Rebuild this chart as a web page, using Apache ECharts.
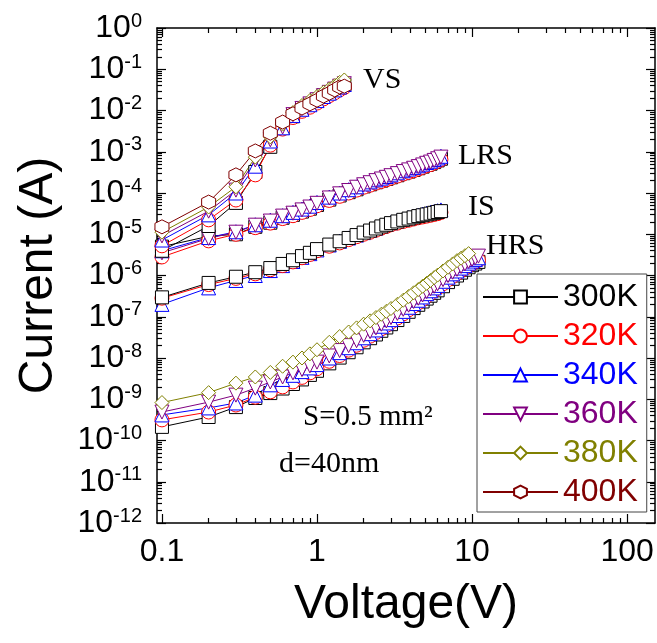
<!DOCTYPE html>
<html style="height: 100%">
<head>
	<meta charset="utf-8">
</head>
<body style="height: 100%; margin: 0; background: #fff">
<div id="container" style="width: 657px; height: 643px"></div>
<script type="text/javascript" src="https://cdn.jsdelivr.net/npm/echarts@6/dist/echarts.min.js"></script>
<script type="text/javascript">
    var dom = document.getElementById("container");
    var myChart = echarts.init(dom);

    // temperatures and their styles
    var temps = ['300K', '320K', '340K', '360K', '380K', '400K'];
    var colors = ['#000000', '#ff0000', '#0000ff', '#800080', '#808000', '#800000'];
    var symbols = ['rect', 'circle', 'triangle', 'triangle',
        'diamond', 'path://M0,-1 L0.87,-0.5 L0.87,0.5 L0,1 L-0.87,0.5 L-0.87,-0.5 Z'];
    var rotates = [0, 0, 0, 180, 0, 0];

    // axis ticks
    var xMajor = [0.1, 1, 10, 100];
    var xLabels = ['0.1', '1', '10', '100'];
    var xMinor = [0.2, 0.3, 0.4, 0.5, 0.6, 0.7, 0.8, 0.9, 2, 3, 4, 5, 6, 7, 8, 9,
        20, 30, 40, 50, 60, 70, 80, 90];
    var yExponents = [-12, -11, -10, -9, -8, -7, -6, -5, -4, -3, -2, -1, 0];
    var yMinorMult = [2, 3, 4, 5, 6, 7, 8, 9];

    // voltages (V)
    var vVS = [0.1, 0.2, 0.3, 0.4, 0.5, 0.6, 0.7, 0.8, 0.9, 1.0, 1.1, 1.2, 1.3, 1.4, 1.5];
    var vSweep = [0.1, 0.2, 0.3, 0.4, 0.5, 0.6, 0.7, 0.8, 0.9, 1.0,
        1.2, 1.4, 1.6, 1.8, 2.0, 2.2, 2.4, 2.6, 2.8, 3.0,
        3.3, 3.6, 3.9, 4.2, 4.5, 4.8, 5.1, 5.4, 5.7, 6.0, 6.3];
    var vHRS = [0.1, 0.2, 0.3, 0.4, 0.5, 0.6, 0.7, 0.8, 0.9, 1.0,
        1.2, 1.4, 1.6, 1.8, 2.0, 2.2, 2.4, 2.6, 2.8, 3.0,
        3.3, 3.6, 3.9, 4.2, 4.5, 4.8, 5.1, 5.4, 5.7, 6.0,
        6.5, 7.0, 7.5, 8.0, 8.5, 9.0, 9.5, 10.0, 10.5, 11.0];

    // currents, as log10 of amps
    var vs300 = [-5.40, -4.80, -4.24, -3.49, -2.88, -2.42, -2.14, -1.97, -1.85, -1.74, -1.64, -1.56, -1.49, -1.42, -1.37];
    var vs320 = [-5.28, -4.65, -4.17, -3.56, -2.84, -2.45, -2.17, -2.02, -1.92, -1.82, -1.72, -1.64, -1.57, -1.50, -1.44];
    var vs340 = [-5.14, -4.53, -4.00, -3.35, -2.74, -2.42, -2.12, -1.97, -1.86, -1.76, -1.66, -1.58, -1.50, -1.43, -1.37];
    var vs360 = [-5.04, -4.44, -3.93, -3.20, -2.71, -2.40, -2.10, -1.95, -1.84, -1.74, -1.64, -1.56, -1.48, -1.41, -1.35];
    var vs380 = [-4.95, -4.34, -3.85, -3.13, -2.64, -2.33, -2.05, -1.88, -1.76, -1.66, -1.56, -1.48, -1.40, -1.32, -1.26];
    var vs400 = [-4.82, -4.22, -3.56, -2.98, -2.55, -2.28, -2.08, -1.94, -1.84, -1.75, -1.65, -1.58, -1.50, -1.43, -1.41];

    var lrs300 = [-5.30, -5.05, -5.00, -4.82, -4.72, -4.60, -4.53, -4.45, -4.38, -4.29,
        -4.16, -4.06, -3.98, -3.91, -3.84, -3.79, -3.74, -3.70, -3.66, -3.62,
        -3.57, -3.52, -3.48, -3.44, -3.40, -3.36, -3.32, -3.29, -3.25, -3.21, -3.17];
    var lrs320 = [-5.55, -5.16, -5.00, -4.84, -4.73, -4.62, -4.55, -4.47, -4.40, -4.31,
        -4.18, -4.08, -4.00, -3.93, -3.86, -3.81, -3.76, -3.72, -3.68, -3.64,
        -3.59, -3.54, -3.50, -3.46, -3.42, -3.38, -3.34, -3.31, -3.27, -3.23, -3.19];
    var lrs340 = [-5.40, -5.08, -4.94, -4.77, -4.66, -4.55, -4.47, -4.39, -4.32, -4.23,
        -4.10, -4.00, -3.92, -3.85, -3.78, -3.73, -3.68, -3.64, -3.60, -3.56,
        -3.51, -3.46, -3.42, -3.38, -3.34, -3.30, -3.26, -3.23, -3.19, -3.15, -3.11];
    var lrs360 = [-5.45, -5.10, -4.95, -4.78, -4.68, -4.56, -4.49, -4.41, -4.34, -4.25,
        -4.12, -4.02, -3.94, -3.86, -3.80, -3.75, -3.70, -3.66, -3.62, -3.58,
        -3.53, -3.48, -3.44, -3.40, -3.36, -3.32, -3.28, -3.25, -3.21, -3.17, -3.13];

    var is300 = [-6.53, -6.18, -6.03, -5.92, -5.82, -5.72, -5.63, -5.53, -5.45, -5.36,
        -5.25, -5.17, -5.09, -5.02, -4.96, -4.91, -4.86, -4.81, -4.77, -4.73,
        -4.69, -4.65, -4.62, -4.59, -4.56, -4.54, -4.52, -4.50, -4.48, -4.46, -4.44];
    var is320 = [-6.55, -6.22, -6.07, -5.96, -5.86, -5.76, -5.67, -5.57, -5.49, -5.40,
        -5.29, -5.21, -5.13, -5.06, -5.00, -4.95, -4.90, -4.85, -4.81, -4.77,
        -4.73, -4.69, -4.66, -4.63, -4.60, -4.58, -4.56, -4.54, -4.52, -4.50, -4.47];
    var is340 = [-6.70, -6.30, -6.12, -6.00, -5.88, -5.76, -5.66, -5.56, -5.47, -5.38,
        -5.26, -5.17, -5.09, -5.02, -4.96, -4.90, -4.85, -4.80, -4.76, -4.72,
        -4.67, -4.63, -4.60, -4.57, -4.54, -4.51, -4.49, -4.47, -4.45, -4.43, -4.41];

    var hrs300 = [-9.67, -9.43, -9.19, -8.97, -8.85, -8.74, -8.63, -8.52, -8.41, -8.31,
        -8.13, -7.99, -7.86, -7.74, -7.62, -7.52, -7.43, -7.34, -7.26, -7.18,
        -7.08, -6.98, -6.88, -6.79, -6.71, -6.63, -6.56, -6.49, -6.42, -6.36,
        -6.26, -6.16, -6.08, -6.00, -5.93, -5.86, -5.80, -5.75, -5.71, -5.67];
    var hrs320 = [-9.50, -9.31, -9.14, -8.95, -8.82, -8.70, -8.58, -8.47, -8.36, -8.26,
        -8.08, -7.94, -7.81, -7.69, -7.57, -7.47, -7.38, -7.29, -7.21, -7.13,
        -7.03, -6.93, -6.83, -6.74, -6.66, -6.58, -6.50, -6.43, -6.36, -6.30,
        -6.20, -6.10, -6.02, -5.95, -5.88, -5.82, -5.76, -5.71, -5.67, -5.63];
    var hrs340 = [-9.38, -9.21, -9.09, -8.90, -8.65, -8.52, -8.42, -8.33, -8.24, -8.16,
        -8.00, -7.87, -7.75, -7.63, -7.51, -7.41, -7.32, -7.23, -7.15, -7.07,
        -6.97, -6.87, -6.77, -6.68, -6.60, -6.52, -6.44, -6.37, -6.30, -6.24,
        -6.14, -6.04, -5.96, -5.89, -5.82, -5.76, -5.70, -5.65, -5.61, -5.57];
    var hrs360 = [-9.31, -9.07, -8.90, -8.73, -8.58, -8.46, -8.36, -8.28, -8.19, -8.10,
        -7.95, -7.82, -7.70, -7.58, -7.45, -7.36, -7.27, -7.18, -7.10, -7.02,
        -6.92, -6.82, -6.72, -6.63, -6.55, -6.47, -6.39, -6.32, -6.26, -6.20,
        -6.10, -6.00, -5.92, -5.85, -5.78, -5.72, -5.66, -5.61, -5.57, -5.53];
    var hrs380 = [-9.08, -8.84, -8.61, -8.46, -8.35, -8.20, -8.10, -8.00, -7.90, -7.80,
        -7.62, -7.48, -7.37, -7.27, -7.18, -7.10, -7.02, -6.94, -6.87, -6.80,
        -6.70, -6.60, -6.51, -6.42, -6.34, -6.26, -6.19, -6.12, -6.05, -5.99,
        -5.89, -5.80, -5.72, -5.64, -5.58, -5.52, -5.47];

    var X_MIN = 0.0929, X_MAX = 151.4;
    var Y_MIN = 1e-12, Y_MAX = 1;
    var SANS = '"Liberation Sans", Arial, sans-serif';
    var SERIF = '"Liberation Serif", "Times New Roman", serif';

    var yMajor = yExponents.map(function (e) { return Math.pow(10, e); });
    var yMinor = [];
    yExponents.slice(0, -1).forEach(function (e) {
        yMinorMult.forEach(function (k) { yMinor.push(k * Math.pow(10, e)); });
    });

    function toPoints(vs, exps) {
        var res = [];
        for (var i = 0; i < exps.length; i++) {
            res.push([vs[i], Math.pow(10, exps[i])]);
        }
        return res;
    }

    function curve(t, vs, exps) {
        return {
            name: temps[t],
            type: 'line',
            data: toPoints(vs, exps),
            symbol: symbols[t],
            symbolSize: t === 0 ? 13 : 14,
            symbolRotate: rotates[t],
            showAllSymbol: true,
            lineStyle: {color: colors[t], width: 1},
            itemStyle: {color: '#fff', borderColor: colors[t], borderWidth: 1},
            emphasis: {disabled: true},
            animation: false
        };
    }

    var series = [
        curve(0, vHRS, hrs300), curve(1, vHRS, hrs320), curve(2, vHRS, hrs340),
        curve(3, vHRS, hrs360), curve(4, vHRS, hrs380),
        curve(2, vSweep, is340), curve(1, vSweep, is320), curve(0, vSweep, is300),
        curve(0, vSweep, lrs300), curve(1, vSweep, lrs320), curve(2, vSweep, lrs340),
        curve(3, vSweep, lrs360),
        curve(0, vVS, vs300), curve(1, vVS, vs320), curve(2, vVS, vs340),
        curve(3, vVS, vs360), curve(4, vVS, vs380), curve(5, vVS, vs400)
    ];

    var frameLine = {show: true, lineStyle: {color: '#000', width: 1.5}};

    function xAxis(position, ticks, len, showLine, label) {
        return {
            type: 'log', logBase: 10, min: X_MIN, max: X_MAX, position: position,
            axisLine: showLine ? frameLine : {show: false},
            splitLine: {show: false},
            axisTick: {show: true, inside: true, length: len, customValues: ticks,
                lineStyle: {color: '#000', width: 1.2}},
            axisLabel: label ? {
                show: true, customValues: xMajor, fontSize: 32, margin: 13,
                color: '#000', fontFamily: SANS,
                formatter: function (v) {
                    for (var i = 0; i < xMajor.length; i++) {
                        if (Math.abs(v / xMajor[i] - 1) < 1e-6) return xLabels[i];
                    }
                    return '';
                }
            } : {show: false},
            name: label ? 'Voltage(V)' : '',
            nameLocation: 'middle', nameGap: 58,
            nameTextStyle: {fontSize: 48, color: '#000', fontFamily: SANS}
        };
    }

    function yAxis(position, ticks, len, showLine, label) {
        return {
            type: 'log', logBase: 10, min: Y_MIN, max: Y_MAX, position: position,
            axisLine: showLine ? frameLine : {show: false},
            splitLine: {show: false},
            axisTick: {show: true, inside: true, length: len, customValues: ticks,
                lineStyle: {color: '#000', width: 1.2}},
            axisLabel: label ? {
                show: true, customValues: yMajor, margin: 15, color: '#000',
                formatter: function (v) {
                    return '{b|10}{s|' + Math.round(Math.log10(v)) + '}';
                },
                rich: {
                    b: {fontSize: 32, fontFamily: SANS, color: '#000', lineHeight: 34},
                    s: {fontSize: 20, fontFamily: SANS, color: '#000', verticalAlign: 'top', lineHeight: 34}
                }
            } : {show: false},
            name: label ? 'Current (A)' : '',
            nameLocation: 'middle', nameGap: 94,
            nameTextStyle: {fontSize: 48, color: '#000', fontFamily: SANS}
        };
    }

    function note(x, y, text, size) {
        return {
            type: 'text', x: x, y: y, z: 100,
            style: {
                text: text, font: size + 'px ' + SERIF, fill: '#000',
                textAlign: 'left', textVerticalAlign: 'middle',
                align: 'left', verticalAlign: 'middle'
            }
        };
    }

    var option = {
        backgroundColor: '#fff',
        animation: false,
        grid: {left: 157, right: 2, top: 28, bottom: 120, containLabel: false},
        xAxis: [
            xAxis('bottom', xMajor, 9, true, true),
            xAxis('top', xMajor, 9, true, false),
            xAxis('bottom', xMinor, 5, false, false),
            xAxis('top', xMinor, 5, false, false)
        ],
        yAxis: [
            yAxis('left', yMajor, 9, true, true),
            yAxis('right', yMajor, 9, true, false),
            yAxis('left', yMinor, 5, false, false),
            yAxis('right', yMinor, 5, false, false)
        ],
        legend: {
            orient: 'vertical', left: 477, top: 274,
            itemWidth: 75, itemHeight: 16, itemGap: 7,
            padding: [7, 9, 4, 5],
            backgroundColor: '#fff', borderColor: '#444', borderWidth: 1, borderRadius: 0,
            selectedMode: false,
            textStyle: {fontSize: 32, fontFamily: SANS, lineHeight: 32},
            data: temps.map(function (t, i) {
                return {name: t, textStyle: {color: colors[i]}};
            })
        },
        graphic: [
            note(363, 80, 'VS', 30),
            note(458, 156, 'LRS', 30),
            note(468, 207, 'IS', 30),
            note(486, 246, 'HRS', 30),
            note(303, 417, 'S=0.5 mm\u00b2', 29),
            note(279, 464, 'd=40nm', 30)
        ],
        series: series
    };

    myChart.setOption(option);
</script>
</body>
</html>
